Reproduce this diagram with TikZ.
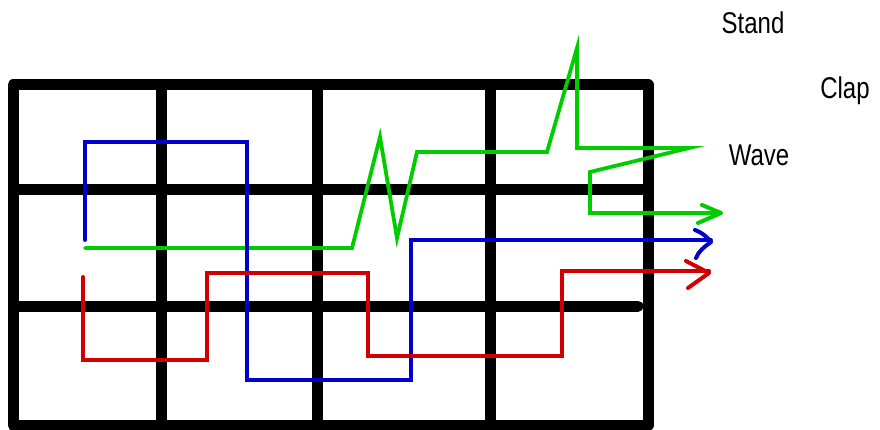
\documentclass[tikz,border=0pt]{standalone}
\usepackage{fontspec}
\newfontfamily\handfont[FakeStretch=0.8]{Liberation Sans}
\definecolor{pgreen}{RGB}{0,204,0}
\definecolor{pblue}{RGB}{0,0,204}
\definecolor{pred}{RGB}{208,0,0}
\begin{document}
\begin{tikzpicture}[x=1pt,y=-1pt,
  gridline/.style={line width=11pt,black,line cap=round,line join=round},
  pathline/.style={line width=3.8pt,line join=miter,line cap=round},
  tip/.style={line width=4pt,line cap=round,line join=round},
  lbl/.style={font=\handfont\fontsize{30}{30}\selectfont,inner sep=0pt}]
\useasboundingbox (0,0) rectangle (880,430);
% grid
\draw[gridline] (13,425) -- (13,85) -- (648,85) -- (648,425) -- cycle;
\draw[gridline] (161,85) -- (161,425);
\draw[gridline] (317,85) -- (317,425);
\draw[gridline] (490,85) -- (490,425);
\draw[gridline] (19,190) -- (642,190);
\draw[gridline] (19,306) -- (638,306);
% green path
\draw[pathline,pgreen] (85,248) -- (352,248) -- (380,137) -- (397,238) -- (417,152)
  -- (547,152) -- (577,48) -- (577,148) -- (689,148) -- (590,172) -- (590,213) -- (720,213);
\draw[tip,pgreen] (702,205) -- (721,213) -- (698,223);
% blue path
\draw[pathline,pblue] (85,240) -- (85,142) -- (247,142) -- (247,380) -- (411,380)
  -- (411,240) -- (711,240);
\draw[tip,pblue] (695,230) .. controls (703,233) and (708,238) .. (711,242)
  .. controls (704,247) and (698,252) .. (696,258);
% red path
\draw[pathline,pred] (83,277) -- (83,360) -- (207,360) -- (207,273) -- (368,273)
  -- (368,356) -- (562,356) -- (562,271) -- (709,271);
\draw[tip,pred] (686,261) -- (709,273) -- (688,288);
% labels
\node[lbl] (stand) at (753,23) {Stand};
\node[lbl] (clap) at (845,91) {Clap};
\node[lbl] (wave) at (759,155) {Wave};
\end{tikzpicture}
\end{document}
